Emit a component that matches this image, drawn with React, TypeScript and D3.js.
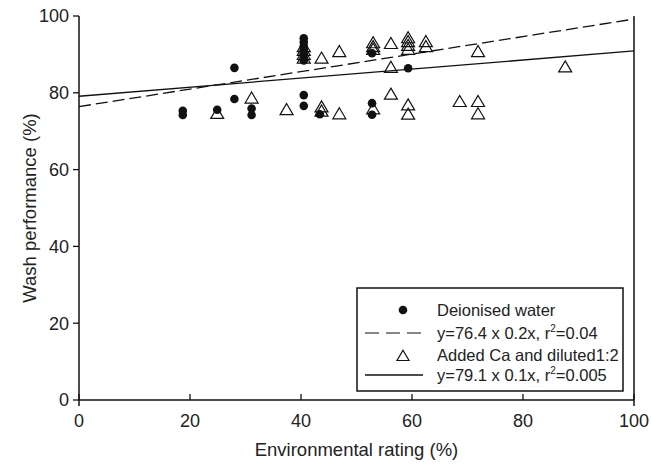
import * as d3 from "d3";

// Deionised water (filled circles)
const deionisedX = [18.7, 18.7, 24.9, 28.0, 28.0, 31.1, 31.1, 40.5, 40.5, 40.5, 40.5, 40.5, 40.5, 40.5, 40.5, 40.5, 43.4, 52.8, 52.8, 52.8, 59.3];
const deionisedY = [74.2, 75.3, 75.6, 86.5, 78.4, 75.9, 74.2, 94.2, 93.2, 92.2, 91.2, 90.2, 89.2, 88.4, 79.4, 76.6, 74.4, 90.3, 77.3, 74.3, 86.4];

// Added Ca and diluted 1:2 (open triangles)
const addedX = [24.9, 31.1, 37.4, 40.5, 40.5, 40.5, 40.5, 43.7, 43.7, 43.7, 46.9, 46.9, 53.0, 53.0, 53.0, 53.0, 56.2, 56.2, 56.2, 59.3, 59.3, 59.3, 59.3, 59.3, 59.3, 62.5, 62.5, 68.6, 71.9, 71.9, 71.9, 87.6];
const addedY = [74.6, 78.6, 75.6, 92.0, 91.0, 90.0, 89.0, 89.0, 76.3, 75.2, 90.7, 74.5, 93.0, 92.0, 91.3, 75.8, 92.8, 86.6, 79.6, 94.3, 93.3, 92.3, 91.3, 76.8, 74.4, 93.3, 92.0, 77.7, 90.7, 77.7, 74.5, 86.7];

// regression lines drawn in the figure [intercept, slope]
const deionisedFit = [76.4, 0.228];
const addedFit = [79.1, 0.118];

const xTicks = [0, 20, 40, 60, 80, 100];
const yTicks = [0, 20, 40, 60, 80, 100];
const legendLabels = ["Deionised water", "y=76.4 x 0.2x, r", "Added Ca and diluted1:2", "y=79.1 x 0.1x, r"];
const legendTails = ["", "=0.04", "", "=0.005"];

const W = 651, H = 465;
const margin = { left: 79, right: 17, top: 16, bottom: 65 };
const font = "'Liberation Sans', Arial, Helvetica, sans-serif";

export default function App() {
  const x = d3.scaleLinear().domain([0, 100]).range([margin.left, W - margin.right]);
  const y = d3.scaleLinear().domain([0, 100]).range([H - margin.bottom, margin.top]);

  const fitLine = (fit: number[]) =>
    d3.line<number>().x((v) => x(v)).y((v) => y(fit[0] + fit[1] * v))([0, 100]) || "";

  const tri = (cx: number, cy: number, s = 6.5) =>
    `M${cx},${cy - s * 0.95} L${cx + s},${cy + s * 0.75} L${cx - s},${cy + s * 0.75} Z`;

  const x0 = x(0), x1 = x(100), y0 = y(0), y1 = y(100);

  // legend layout
  const lgX = 357, lgY = 288, lgW = 266, lgH = 103;
  const rows = [310, 333, 355, 375];
  const symX = 403, lineX0 = 365, lineX1 = 423, textX = 437;

  return (
    <svg width={W} height={H} style={{ position: "absolute", left: 0, top: 0, background: "#fff" }} fontFamily={font}>
      {/* fit lines */}
      <path d={fitLine(deionisedFit)} fill="none" stroke="#111" strokeWidth={1.3} strokeDasharray="12,5" />
      <path d={fitLine(addedFit)} fill="none" stroke="#111" strokeWidth={1.3} />

      {/* data */}
      {deionisedX.map((d, i) => (
        <circle key={"c" + i} cx={x(d)} cy={y(deionisedY[i])} r={4.3} fill="#111" />
      ))}
      {addedX.map((d, i) => (
        <path key={"t" + i} d={tri(x(d), y(addedY[i]))} fill="none" stroke="#111" strokeWidth={1.2} />
      ))}

      {/* axes */}
      <line x1={x0} x2={x0} y1={y1} y2={y0 + 6} stroke="#111" strokeWidth={1.5} />
      <line x1={x1} x2={x1} y1={y1} y2={y0 + 6} stroke="#111" strokeWidth={1.5} />
      <line x1={x0} x2={x1} y1={y0} y2={y0} stroke="#111" strokeWidth={1.5} />
      {yTicks.map((t) => (
        <g key={"yt" + t}>
          <line x1={x0 - 6} x2={x0} y1={y(t)} y2={y(t)} stroke="#111" strokeWidth={1.3} />
          <text x={x0 - 10} y={y(t)} dy="0.36em" textAnchor="end" fontSize={18} fill="#222">{t}</text>
        </g>
      ))}
      {xTicks.map((t) => (
        <g key={"xt" + t}>
          <line x1={x(t)} x2={x(t)} y1={y0 - 6} y2={y0} stroke="#111" strokeWidth={1.3} />
          <text x={x(t)} y={y0 + 27} textAnchor="middle" fontSize={18} fill="#222">{t}</text>
        </g>
      ))}
      <text x={(x0 + x1) / 2} y={H - 9} textAnchor="middle" fontSize={18.5} fill="#222">Environmental rating (%)</text>
      <text transform={`translate(36,${(y0 + y1) / 2}) rotate(-90)`} textAnchor="middle" fontSize={18.5} fill="#222">Wash performance (%)</text>

      {/* legend */}
      <rect x={lgX} y={lgY} width={lgW} height={lgH} fill="#fff" stroke="#111" strokeWidth={1.5} />
      <circle cx={symX} cy={rows[0]} r={4.3} fill="#111" />
      <line x1={lineX0} x2={lineX1} y1={rows[1]} y2={rows[1]} stroke="#111" strokeWidth={1.2} strokeDasharray="14,7" />
      <path d={tri(symX, rows[2] + 1, 6)} fill="none" stroke="#111" strokeWidth={1.2} />
      <line x1={lineX0} x2={lineX1} y1={rows[3]} y2={rows[3]} stroke="#111" strokeWidth={1.3} />
      {legendLabels.map((l, i) => (
        <text key={"lg" + i} x={textX} y={rows[i]} dy="0.36em" fontSize={16.5} fill="#222">
          {l}
          {legendTails[i] && (
            <>
              <tspan fontSize={10} dy="-0.7em">2</tspan>
              <tspan dy="0.45em">{legendTails[i]}</tspan>
            </>
          )}
        </text>
      ))}
    </svg>
  );
}
